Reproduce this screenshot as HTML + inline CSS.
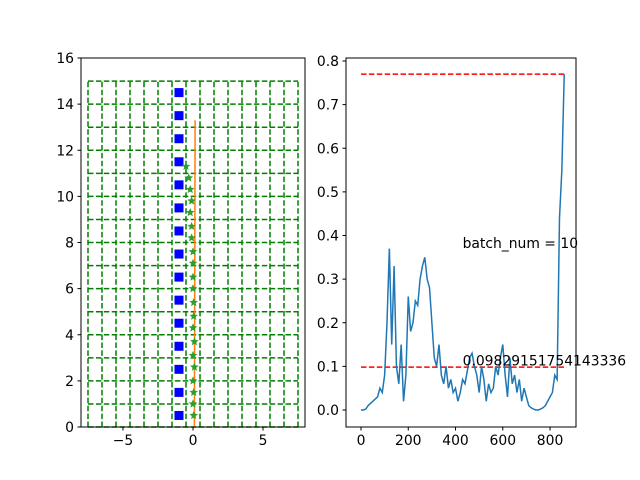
<!DOCTYPE html>
<html><head><meta charset="utf-8"><style>body{margin:0;background:#fff}svg{display:block;font-family:"DejaVu Sans","Liberation Sans",sans-serif}</style></head>
<body>
<svg id="fig" width="640" height="480" viewBox="0 0 640 480" xmlns="http://www.w3.org/2000/svg">
<rect width="640" height="480" fill="#fff"/>
<g id="left"></g>
<g id="right"></g>
</svg>
<script>
const squareY = [0.5,1.5,2.5,3.5,4.5,5.5,6.5,7.5,8.5,9.5,10.5,11.5,12.5,13.5,14.5];
const squareX = -1;
const starY = [0.5,1,1.5,2,2.6,3.1,3.7,4.3,4.8,5.4,6,6.5,7.1,7.6,8.2,8.7,9.3,9.8,10.3,10.8,11.3];
const starX = [0.05,0,0.05,0,0.1,0,0.1,0,0.05,0.05,0,0,0,0,-0.1,-0.1,-0.2,-0.1,-0.2,-0.3,-0.5];
const orangeLine = [[0.1,0],[0.15,13.3]];
const leftXTicks = [-5,0,5];
const leftYTicks = [0,2,4,6,8,10,12,14,16];
const lossX = [];
const lossY = [0,0,0.002,0.01,0.015,0.02,0.025,0.03,0.05,0.04,
0.08,0.2,0.37,0.15,0.33,0.1,0.06,0.15,0.02,0.08,
0.26,0.18,0.2,0.25,0.24,0.3,0.33,0.35,0.3,0.28,
0.2,0.12,0.1,0.15,0.08,0.06,0.1,0.05,0.07,0.04,
0.05,0.02,0.04,0.07,0.06,0.09,0.12,0.13,0.1,0.08,
0.04,0.1,0.07,0.02,0.06,0.04,0.05,0.1,0.08,0.12,
0.15,0.08,0.03,0.12,0.06,0.08,0.04,0.07,0.02,0.05,
0.03,0.01,0.005,0.002,0,0,0.002,0.005,0.01,0.02,
0.03,0.04,0.08,0.07,0.44,0.55,0.77];
for(let i=0;i<lossY.length;i++) lossX.push(i*10);
const hLines = [0.77, 0.09829151754143336];
const thresholdText = '0.09829151754143336';
const rightXTicks = [0,200,400,600,800];
const rightYTicks = [0,0.1,0.2,0.3,0.4,0.5,0.6,0.7,0.8];
const FS = 13.9;
const NS='http://www.w3.org/2000/svg';
function mk(p,t,a,txt){const e=document.createElementNS(NS,t);for(const k in a)e.setAttribute(k,a[k]);if(txt!==undefined)e.textContent=txt;p.appendChild(e);return e;}
const L=document.getElementById('left');
const lx=v=>193+v*14, ly=v=>427-v*23.0625;
for(let y=0;y<=15;y++){const e=mk(L,'line',{x1:lx(-7.5),x2:lx(7.5),y1:ly(y),y2:ly(y),stroke:'#008000','stroke-width':1.5,'stroke-dasharray':'5.5,2.4'});

}
for(let x=-7.5;x<=7.5;x++){const e=mk(L,'line',{x1:lx(x),x2:lx(x),y1:ly(0),y2:ly(15),stroke:'#008000','stroke-width':1.5,'stroke-dasharray':'5.5,2.4'});

}
{const e=mk(L,'line',{x1:lx(orangeLine[0][0]),y1:ly(orangeLine[0][1]),x2:lx(orangeLine[1][0]),y2:ly(orangeLine[1][1]),stroke:'#ff7f0e','stroke-width':1.5});

}
squareY.forEach(v=>{const e=mk(L,'rect',{x:lx(squareX)-4.5,y:ly(v)-4.5,width:9,height:9,fill:'#0000ff'});

});
function star(cx,cy,r){let p=[];for(let i=0;i<10;i++){const a=-Math.PI/2+i*Math.PI/5,rr=i%2?r*0.45:r;p.push((cx+rr*Math.cos(a)).toFixed(1)+','+(cy+rr*Math.sin(a)).toFixed(1));}return p.join(' ');}
starY.forEach((v,i)=>{const e=mk(L,'polygon',{points:star(lx(starX[i]),ly(v),4.5),fill:'#2ca02c'});

});
{const e=mk(L,'rect',{x:81,y:58,width:224,height:369,fill:'none',stroke:'#000','stroke-width':1});

}
leftXTicks.forEach(v=>{mk(L,'line',{x1:lx(v),x2:lx(v),y1:427,y2:430.5,stroke:'#000'});const t=mk(L,'text',{x:lx(v),y:445,'font-size':FS,'text-anchor':'middle'},v<0?'\u2212'+(-v):String(v));

});
leftYTicks.forEach(v=>{mk(L,'line',{x1:77.5,x2:81,y1:ly(v),y2:ly(v),stroke:'#000'});const t=mk(L,'text',{x:74,y:ly(v)+5,'font-size':FS,'text-anchor':'end'},String(v));

});
const R=document.getElementById('right');
const rx=v=>361+v*0.2363, ry=v=>410-v*436.25;
hLines.forEach(v=>{const e=mk(R,'line',{x1:rx(0),x2:rx(870),y1:ry(v),y2:ry(v),stroke:'#ff0000','stroke-width':1.5,'stroke-dasharray':'5.5,2.4'});

});
{const e=mk(R,'polyline',{points:lossX.map((x,i)=>rx(x)+','+ry(lossY[i])).join(' '),fill:'none',stroke:'#1f77b4','stroke-width':1.5});

}
{const t=mk(R,'text',{x:rx(430),y:ry(0.38)+4,'font-size':FS},'batch_num = 10');

}
{const t=mk(R,'text',{x:rx(430),y:ry(0.1)-1,'font-size':FS},thresholdText);

}
{const e=mk(R,'rect',{x:346,y:58,width:230,height:369,fill:'none',stroke:'#000','stroke-width':1});

}
rightXTicks.forEach(v=>{mk(R,'line',{x1:rx(v),x2:rx(v),y1:427,y2:430.5,stroke:'#000'});const t=mk(R,'text',{x:rx(v),y:445,'font-size':FS,'text-anchor':'middle'},String(v));

});
rightYTicks.forEach(v=>{mk(R,'line',{x1:342.5,x2:346,y1:ry(v),y2:ry(v),stroke:'#000'});const t=mk(R,'text',{x:339,y:ry(v)+5,'font-size':FS,'text-anchor':'end'},v.toFixed(1));

});
</script>
</body></html>
